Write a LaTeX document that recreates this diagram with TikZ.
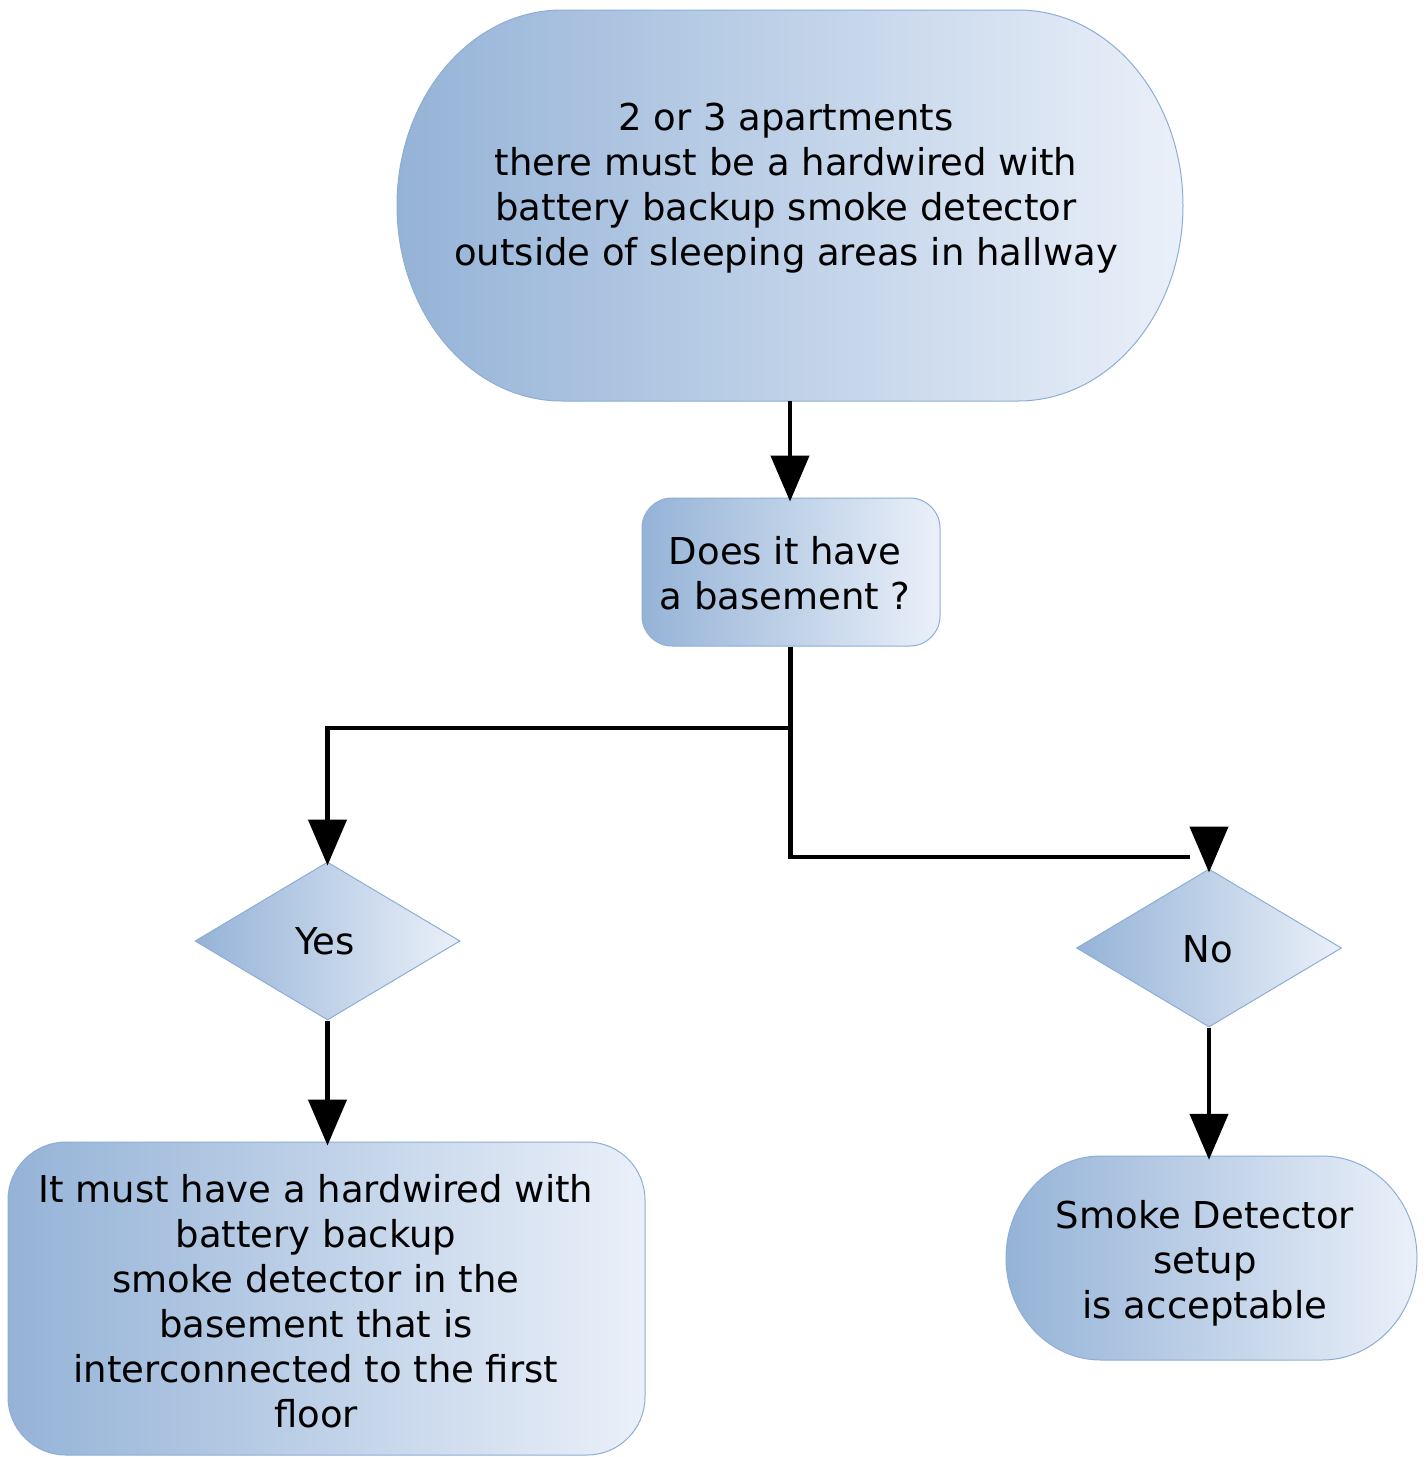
\documentclass[tikz,border=0pt]{standalone}
\usepackage{fontspec}
\setmainfont{DejaVu Sans}
\usetikzlibrary{arrows.meta,shapes.geometric}
\definecolor{shL}{HTML}{95B3D7}
\definecolor{shR}{HTML}{EAF0F9}
\definecolor{bord}{HTML}{8EADD6}
\tikzset{
  shadefill/.style={left color=shL, right color=shR, draw=bord, line width=1pt},
  txt/.style={align=center, inner sep=0pt, font=\fontsize{37}{45}\selectfont},
  anchorbox/.style={draw=none, fill=none, inner sep=0pt},
  roundbox/.style={shadefill, rectangle, inner sep=0pt},
  dia/.style={shadefill, diamond, inner sep=0pt, minimum width=265pt, minimum height=158pt},
  conn/.style={line width=4.5pt, shorten >=-4pt, -{Triangle[length=46pt, width=38pt]}},
  wire/.style={line width=4.5pt}
}
\begin{document}
\begin{tikzpicture}[x=1pt, y=-1pt]
\useasboundingbox (0,0) rectangle (1426,1457);

% top terminator (elliptical corners)
\node[anchorbox, minimum width=786pt, minimum height=391pt] (top) at (790,205.5) {};
\shade[shadefill] (397,205.5) .. controls (397,97.5) and (470.9,10) .. (562,10)
  -- (1018,10) .. controls (1109.1,10) and (1183,97.5) .. (1183,205.5)
  .. controls (1183,313.5) and (1109.1,401) .. (1018,401)
  -- (562,401) .. controls (470.9,401) and (397,313.5) .. (397,205.5) -- cycle;
\node[txt] (topT) at (786,188) {2 or 3 apartments\\there must be a hardwired with\\battery backup smoke detector\\outside of sleeping areas in hallway};

% question box
\node[roundbox, rounded corners=30pt, minimum width=298pt, minimum height=148pt] (q) at (791,572) {};
\node[txt] (qT) at (785,573) {Does it have\\a basement ?};

% diamonds
\node[dia] (yes) at (327.5,941) {};
\node[txt] (yesT) at (325,941) {Yes};
\node[dia] (no) at (1209,948) {};
\node[txt] (noT) at (1208,949) {No};

% bottom-left box
\node[roundbox, rounded corners=58pt, minimum width=637pt, minimum height=313pt] (yb) at (326.5,1298.5) {};
\node[txt] (ybT) at (316,1301) {It must have a hardwired with\\battery backup\\smoke detector in the\\basement that is\\interconnected to the first\\floor};

% bottom-right terminator
\node[anchorbox, minimum width=411pt, minimum height=204pt] (acc) at (1211.5,1258) {};
\shade[shadefill] (1006,1258) .. controls (1006,1201.7) and (1048.5,1156) .. (1101,1156)
  -- (1322,1156) .. controls (1374.5,1156) and (1417,1201.7) .. (1417,1258)
  .. controls (1417,1314.3) and (1374.5,1360) .. (1322,1360)
  -- (1101,1360) .. controls (1048.5,1360) and (1006,1314.3) .. (1006,1258) -- cycle;
\node[txt] (accT) at (1205,1263) {Smoke Detector\\setup\\is acceptable};

% connectors
\coordinate (br) at (790.5,728);
\coordinate (nend) at (1190,857);
\coordinate (ntip) at (1209,828);
\draw[conn] (top.south) -- (top.south |- q.north);
\draw[conn] (q.south -| br) -- (br) -| (yes.north);
\draw[wire] (br) |- (nend);
\draw[conn] (ntip) -- (no.north);
\draw[conn] (yes.south) -- (yes.south |- yb.north);
\draw[conn] (no.south) -- (no.south |- acc.north);
\end{tikzpicture}
\end{document}
